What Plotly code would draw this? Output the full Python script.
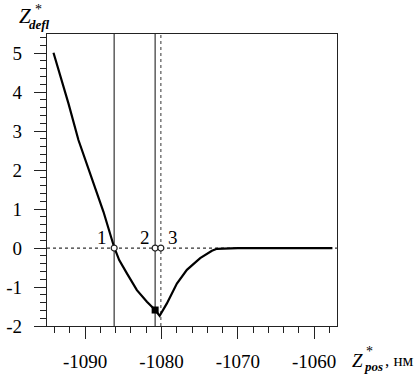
import plotly.graph_objects as go

# Curve data
curve_x = [-1094.15, -1092.19, -1090.88, -1088.91, -1087.60, -1086.20,
           -1085.54, -1084.53, -1083.22, -1081.91, -1080.83, -1080.24, -1079.29,
           -1077.98, -1076.67, -1074.93, -1073.39, -1072.74, -1070.0, -1065.0, -1057.6]
curve_y = [5.01, 3.71, 2.77, 1.66, 0.93, 0.02,
           -0.31, -0.65, -1.08, -1.38, -1.59, -1.74, -1.42,
           -0.91, -0.56, -0.26, -0.07, -0.02, 0.0, 0.0, 0.0]

solid_lines_x = [-1086.2, -1080.83]
dotted_line_x = [-1080.08]
point_x = [-1086.2, -1080.83, -1080.08]
point_y = [0, 0, 0]
point_labels = ["1", "2", "3"]
square_x = [-1080.83]
square_y = [-1.59]

x_ticks = [-1090, -1080, -1070, -1060]
x_ticktext = ["-1090", "-1080", "-1070", "-1060"]
y_ticks = [-2, -1, 0, 1, 2, 3, 4, 5]
y_ticktext = ["-2", "-1", "0", "1", "2", "3", "4", "5"]

FONT = "Liberation Serif, Times New Roman, serif"

fig = go.Figure()

# horizontal dotted zero line
fig.add_shape(type="line", xref="x", yref="y", x0=-1095, x1=-1057, y0=0, y1=0,
              line=dict(color="#333333", width=1.2, dash="dot"), layer="below")
for xv in solid_lines_x:
    fig.add_shape(type="line", xref="x", yref="paper", x0=xv, x1=xv, y0=0, y1=1,
                  line=dict(color="#444444", width=1.3), layer="below")
for xv in dotted_line_x:
    fig.add_shape(type="line", xref="x", yref="paper", x0=xv, x1=xv, y0=0, y1=1,
                  line=dict(color="#555555", width=1.2, dash="dot"), layer="below")

fig.add_trace(go.Scatter(x=curve_x, y=curve_y, mode="lines",
                         line=dict(color="black", width=2.2), hoverinfo="skip"))
fig.add_trace(go.Scatter(x=square_x, y=square_y, mode="markers",
                         marker=dict(symbol="square", size=7, color="black")))
fig.add_trace(go.Scatter(x=point_x, y=point_y, mode="markers",
                         marker=dict(symbol="circle", size=6, color="white",
                                     line=dict(color="#222222", width=1.2))))

# point labels
offsets = [(-12, 11), (-10, 11), (12, 11)]
for xv, lab, (dx, dy) in zip(point_x, point_labels, offsets):
    fig.add_annotation(x=xv, y=0, text=lab, showarrow=False, xshift=dx, yshift=dy,
                       font=dict(family=FONT, size=19, color="black"))

# axis titles built from pieces
def ann(px, py, text, size, xanchor="center", yanchor="middle"):
    fig.add_annotation(xref="paper", yref="paper",
                       x=(px - 47) / 290, y=(326 - py) / 292,
                       text=text, showarrow=False, xanchor=xanchor, yanchor=yanchor,
                       font=dict(family=FONT, size=size, color="black"))

# y axis title Z*_defl
ann(25, 16, "<i>Z</i>", 21)
ann(38, 10, "*", 14)
ann(39, 25, "<b><i>defl</i></b>", 13)
# x axis title Z*_pos, нм
ann(357, 360, "<i>Z</i>", 19)
ann(369, 351, "*", 14)
ann(373, 366, "<b><i>pos</i></b>", 13)
ann(383, 360, ", нм", 17, xanchor="left")

fig.update_layout(
    width=415, height=374,
    margin=dict(l=47, r=78, t=34, b=48, autoexpand=False),
    paper_bgcolor="white", plot_bgcolor="white",
    showlegend=False,
    font=dict(family=FONT, size=19, color="black"),
    xaxis=dict(range=[-1095, -1057], tickvals=x_ticks, ticktext=x_ticktext,
               ticks="outside", ticklen=12, tickwidth=1.2, tickcolor="#222222",
               minor=dict(dtick=2, tick0=-1060, ticks="outside", ticklen=6,
                          tickwidth=1.2, tickcolor="#222222"),
               showline=True, linecolor="#222222", linewidth=1.2, mirror=True,
               showgrid=False, zeroline=False, ticklabelstandoff=6,
               automargin=False, tickfont=dict(family=FONT, size=19)),
    yaxis=dict(range=[-2, 5.49], tickvals=y_ticks, ticktext=y_ticktext,
               ticks="outside", ticklen=12, tickwidth=1.2, tickcolor="#222222",
               minor=dict(dtick=0.2, tick0=0, ticks="outside", ticklen=6,
                          tickwidth=1.2, tickcolor="#222222"),
               showline=True, linecolor="#222222", linewidth=1.2, mirror=True,
               showgrid=False, zeroline=False, ticklabelstandoff=8,
               automargin=False, tickfont=dict(family=FONT, size=19)),
)

fig.write_html("out.html")
